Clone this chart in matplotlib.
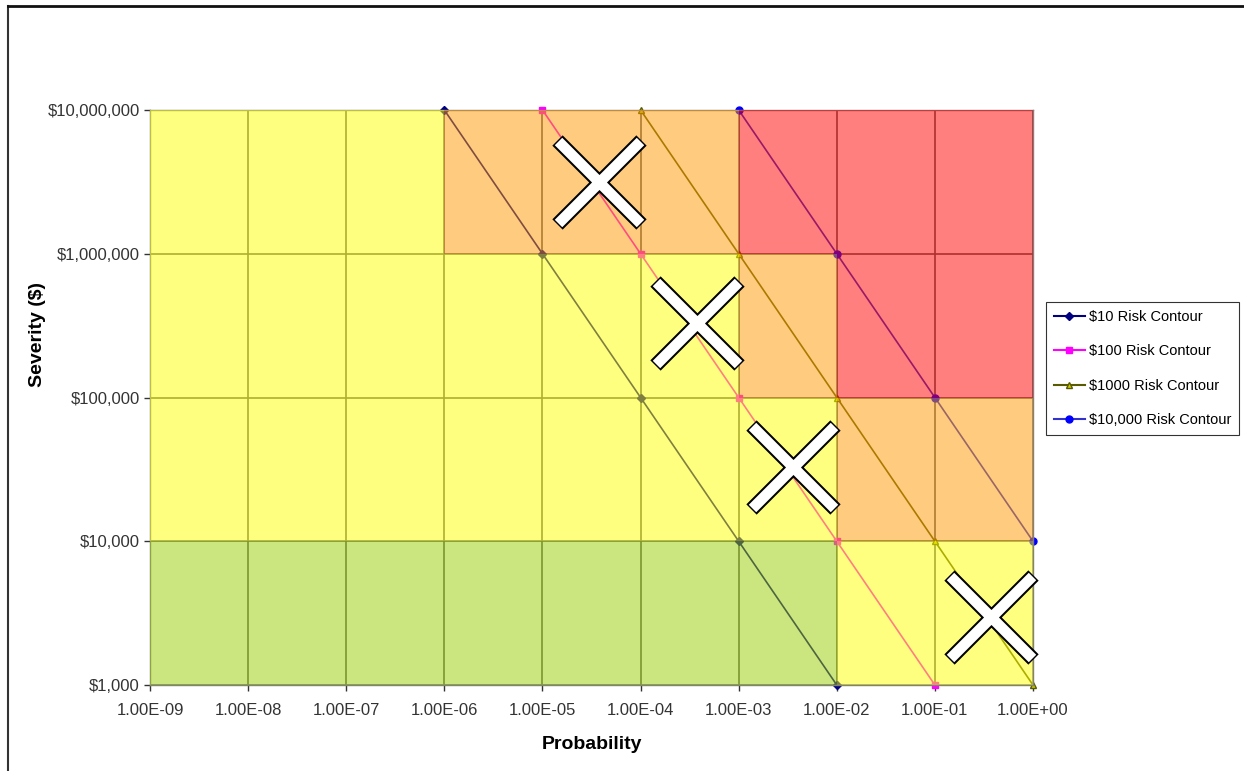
import matplotlib
matplotlib.use("Agg")
import matplotlib.pyplot as plt
from matplotlib.colors import ListedColormap
from matplotlib.lines import Line2D
import numpy as np

plt.rcParams['font.family'] = ['Liberation Sans', 'DejaVu Sans']

# axis decades
prob_edges = [1e-9, 1e-8, 1e-7, 1e-6, 1e-5, 1e-4, 1e-3, 1e-2, 1e-1, 1e0]
sev_edges = [1e3, 1e4, 1e5, 1e6, 1e7]
prob_labels = ["1.00E-09", "1.00E-08", "1.00E-07", "1.00E-06", "1.00E-05",
               "1.00E-04", "1.00E-03", "1.00E-02", "1.00E-01", "1.00E+00"]
sev_labels = ["$1,000", "$10,000", "$100,000", "$1,000,000", "$10,000,000"]

# risk zone per cell: 0 green, 1 yellow, 2 orange, 3 red (rows = severity decade, bottom first)
zones = [
    [0, 0, 0, 0, 0, 0, 0, 1, 1],
    [1, 1, 1, 1, 1, 1, 1, 2, 2],
    [1, 1, 1, 1, 1, 1, 2, 3, 3],
    [1, 1, 1, 2, 2, 2, 3, 3, 3],
]
zone_colors = ["#99CC00", "#FFFF00", "#FF9900", "#FF0000"]

# risk contours (probability, severity)
c10_p = [1e-6, 1e-5, 1e-4, 1e-3, 1e-2]
c10_s = [1e7, 1e6, 1e5, 1e4, 1e3]
c100_p = [1e-5, 1e-4, 1e-3, 1e-2, 1e-1]
c100_s = [1e7, 1e6, 1e5, 1e4, 1e3]
c1000_p = [1e-4, 1e-3, 1e-2, 1e-1, 1e0]
c1000_s = [1e7, 1e6, 1e5, 1e4, 1e3]
c10000_p = [1e-3, 1e-2, 1e-1, 1e0]
c10000_s = [1e7, 1e6, 1e5, 1e4]

# big crosses
cross_p = [10**-4.42, 10**-3.42, 10**-2.45, 10**-0.43]
cross_s = [10**6.5, 10**5.52, 10**4.52, 10**3.47]

fig = plt.figure(figsize=(12.44, 7.71), dpi=100)
ax = fig.add_axes([0.1206, 0.1115, 0.7098, 0.7458])
ax.set_xscale('log')
ax.set_yscale('log')
ax.set_xlim(1e-9, 1e0)
ax.set_ylim(1e3, 1e7)

# grid under the coloured cells
for p in prob_edges:
    ax.axvline(p, color='#606060', lw=1.2, zorder=1)
for s in sev_edges:
    ax.axhline(s, color='#606060', lw=1.2, zorder=1)

ax.plot(c10_p, c10_s, color='#000080', marker='D', ms=4, lw=1.2, zorder=2, clip_on=False)
ax.plot(c100_p, c100_s, color='#FF00FF', marker='s', ms=5, lw=1.2, zorder=2, clip_on=False)
ax.plot(c1000_p, c1000_s, color='#5A5A00', marker='^', ms=5, mfc='#CCCC00', mec='#5A5A00',
        lw=1.2, zorder=2, clip_on=False)
ax.plot(c10000_p, c10000_s, color='#3333CC', marker='o', ms=5, mfc='#0000FF', mec='#0000FF',
        lw=1.2, zorder=2, clip_on=False)

# translucent risk zones over everything
cmap = ListedColormap(zone_colors)
ax.pcolormesh(prob_edges, sev_edges, np.array(zones), cmap=cmap, vmin=-0.5, vmax=3.5,
              alpha=0.5, zorder=3, edgecolors='none', antialiased=False)

# crosses: black outline pass then white fill pass
ax.plot(cross_p, cross_s, linestyle='none', marker='x', ms=61, mew=10.5, color='black',
        zorder=5, clip_on=False)
ax.plot(cross_p, cross_s, linestyle='none', marker='x', ms=58.5, mew=7.6, color='white',
        zorder=6, clip_on=False)

ax.set_xticks(prob_edges)
ax.set_xticklabels(prob_labels)
ax.set_yticks(sev_edges)
ax.set_yticklabels(sev_labels)
ax.minorticks_off()
ax.tick_params(axis='both', labelsize=12, colors='#333333', length=4, width=1)
ax.tick_params(axis='x', pad=9)
for sp in ax.spines.values():
    sp.set_color('#808080')
    sp.set_linewidth(1)

ax.set_xlabel('Probability', fontsize=14, fontweight='bold')
ax.xaxis.set_label_coords(0.5, -0.088)
ax.set_ylabel('Severity ($)', fontsize=14, fontweight='bold')
ax.yaxis.set_label_coords(-0.1175, 0.61)

handles = [
    Line2D([], [], color='#000080', marker='D', ms=4),
    Line2D([], [], color='#FF00FF', marker='s', ms=5),
    Line2D([], [], color='#5A5A00', marker='^', ms=5, mfc='#CCCC00', mec='#5A5A00'),
    Line2D([], [], color='#3333CC', marker='o', ms=5, mfc='#0000FF', mec='#0000FF'),
]
labels = ['$10 Risk Contour', '$100 Risk Contour', '$1000 Risk Contour', '$10,000 Risk Contour']
leg = fig.legend(handles, labels, loc='upper left', bbox_to_anchor=(0.8408, 0.6083),
                 fontsize=10.5, frameon=True, fancybox=False, edgecolor='black',
                 labelspacing=1.4, handlelength=2.1, handletextpad=0.3, borderpad=0.55,
                 borderaxespad=0)
leg.get_frame().set_linewidth(0.8)

# outer chart border (left and top visible)
fig.add_artist(Line2D([0.0065, 0.0065], [0.0, 0.992], color='#333333', lw=1.5))
fig.add_artist(Line2D([0.0065, 1.0], [0.992, 0.992], color='#111111', lw=2))

fig.savefig('out.png', dpi=100)
